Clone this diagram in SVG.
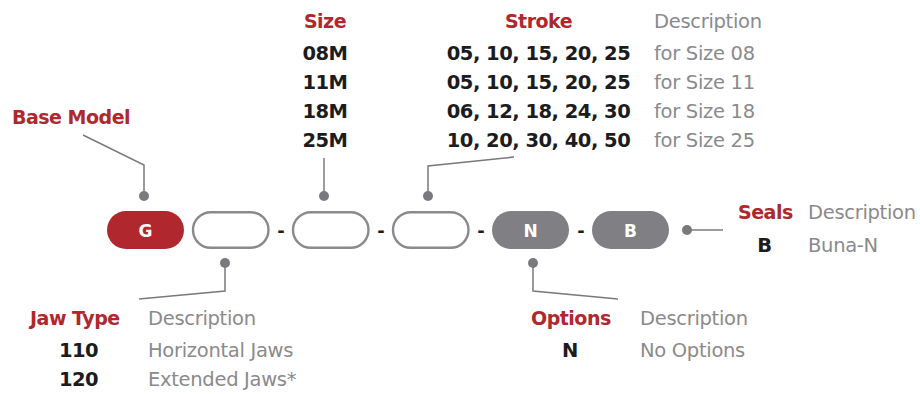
<svg xmlns="http://www.w3.org/2000/svg" width="920" height="394" viewBox="0 0 920 394">
<style>
.red{font-family:"DejaVu Sans",sans-serif;font-weight:bold;font-size:19px;letter-spacing:-0.5px;fill:#b0272d}
.val{font-family:"DejaVu Sans",sans-serif;font-weight:bold;font-size:19.5px;letter-spacing:-0.5px;fill:#1c1c1e}
.desc{font-family:"DejaVu Sans",sans-serif;font-size:19.5px;letter-spacing:-0.3px;fill:#8a8a8d}
.pl{font-family:"DejaVu Sans",sans-serif;font-weight:bold;font-size:17px;fill:#ffffff;text-anchor:middle}
.dash{font-family:"DejaVu Sans",sans-serif;font-weight:bold;font-size:18px;fill:#1c1c1e;text-anchor:middle}
.ln{fill:none;stroke:#7a7a7e;stroke-width:1.5}
.dot{fill:#7a7a7e}
.mid{text-anchor:middle}
</style>
<rect width="920" height="394" fill="#ffffff"/>
<g id="connectors">
<polyline class="ln" points="83,135 144,165 144,196"/>
<circle class="dot" cx="144" cy="196" r="5"/>
<polyline class="ln" points="324,158 324,196"/>
<circle class="dot" cx="324" cy="196" r="5"/>
<polyline class="ln" points="514,157 428,166 428,196"/>
<circle class="dot" cx="428" cy="196" r="5"/>
<polyline class="ln" points="225,263 225,291 139,299"/>
<circle class="dot" cx="225" cy="263" r="5"/>
<polyline class="ln" points="533,263 533,291 618,299"/>
<circle class="dot" cx="533" cy="263" r="5"/>
<polyline class="ln" points="687,230 723,230"/>
<circle class="dot" cx="687" cy="230" r="5"/>
</g>
<g id="pill-g"><rect x="107" y="211" width="77" height="38" rx="19" fill="#b0272d"/><text class="pl" x="145.5" y="236.5">G</text></g>
<g id="pill-jaw"><rect x="193" y="212.2" width="75.5" height="35.6" rx="17.8" fill="#ffffff" stroke="#8a8a8e" stroke-width="2.4"/></g>
<text class="dash" x="281" y="237">-</text>
<g id="pill-size"><rect x="293" y="212.2" width="75.5" height="35.6" rx="17.8" fill="#ffffff" stroke="#8a8a8e" stroke-width="2.4"/></g>
<text class="dash" x="381" y="237">-</text>
<g id="pill-stroke"><rect x="393" y="212.2" width="75.5" height="35.6" rx="17.8" fill="#ffffff" stroke="#8a8a8e" stroke-width="2.4"/></g>
<text class="dash" x="481" y="237">-</text>
<g id="pill-n"><rect x="492" y="211" width="77" height="38" rx="19" fill="#808084"/><text class="pl" x="530.5" y="236.5">N</text></g>
<text class="dash" x="581" y="237">-</text>
<g id="pill-b"><rect x="592" y="211" width="77" height="38" rx="19" fill="#808084"/><text class="pl" x="630.5" y="236.5">B</text></g>

<g id="base-model"><text class="red" x="12" y="124">Base Model</text></g>

<g id="size">
<text class="red mid" x="325" y="28">Size</text>
<text class="val mid" x="325" y="60">08M</text>
<text class="val mid" x="325" y="89">11M</text>
<text class="val mid" x="325" y="118">18M</text>
<text class="val mid" x="325" y="147">25M</text>
</g>

<g id="stroke">
<text class="red mid" x="538.5" y="28">Stroke</text>
<text class="val mid" x="538.5" y="60">05, 10, 15, 20, 25</text>
<text class="val mid" x="538.5" y="89">05, 10, 15, 20, 25</text>
<text class="val mid" x="538.5" y="118">06, 12, 18, 24, 30</text>
<text class="val mid" x="538.5" y="147">10, 20, 30, 40, 50</text>
<text class="desc" x="654" y="28">Description</text>
<text class="desc" x="654" y="60">for Size 08</text>
<text class="desc" x="654" y="89">for Size 11</text>
<text class="desc" x="654" y="118">for Size 18</text>
<text class="desc" x="654" y="147">for Size 25</text>
</g>

<g id="seals">
<text class="red" x="738" y="219">Seals</text>
<text class="desc" x="808" y="219">Description</text>
<text class="val mid" x="764.5" y="252">B</text>
<text class="desc" x="808" y="252">Buna-N</text>
</g>

<g id="jaw-type">
<text class="red" x="30" y="325">Jaw Type</text>
<text class="desc" x="148" y="325">Description</text>
<text class="val mid" x="78.5" y="357">110</text>
<text class="desc" x="148" y="357">Horizontal Jaws</text>
<text class="val mid" x="78.5" y="386">120</text>
<text class="desc" x="148" y="386">Extended Jaws*</text>
</g>

<g id="options">
<text class="red" x="531" y="325">Options</text>
<text class="desc" x="640" y="325">Description</text>
<text class="val mid" x="570" y="357">N</text>
<text class="desc" x="640" y="357">No Options</text>
</g>
</svg>
